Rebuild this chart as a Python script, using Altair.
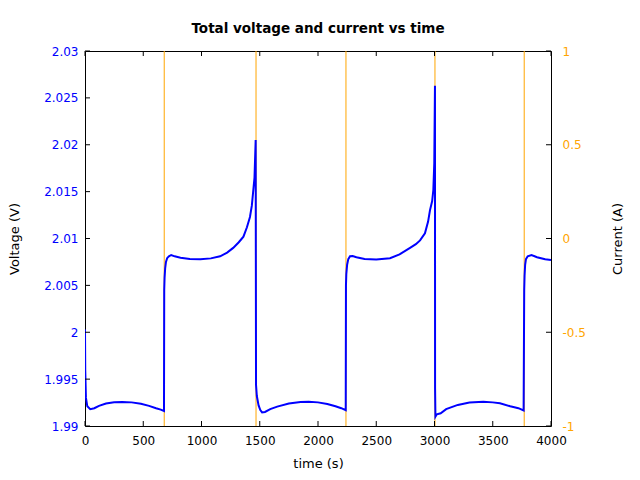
import altair as alt
import pandas as pd

# ---- data ----
time_v = [0, 2, 8, 20, 45, 80, 120, 180, 250, 320, 400, 480, 550, 610, 650, 678,
          680, 683, 688, 695, 705, 720, 740, 770, 820, 900, 990, 1080, 1160, 1220, 1272, 1320, 1360, 1390, 1416, 1432, 1445, 1455, 1465,
          1468, 1475, 1490, 1505, 1520, 1545, 1590, 1650, 1750, 1850, 1920, 2000, 2080, 2150, 2200, 2238,
          2240, 2243, 2250, 2260, 2275, 2297, 2330, 2400, 2500, 2618, 2700, 2790, 2840, 2876, 2918, 2945, 2961, 2980, 2990, 2998, 3004,
          3005, 3008, 3020, 3053, 3100, 3200, 3300, 3419, 3500, 3562, 3650, 3720, 3765,
          3770, 3773, 3778, 3785, 3800, 3833, 3880, 3950, 4000]
voltage = [2.0003, 1.9960, 1.9930, 1.9921, 1.9918, 1.99190, 1.99215, 1.99240, 1.99253, 1.99256, 1.99252, 1.99237, 1.99215, 1.99190, 1.99175, 1.99160,
           2.0045, 2.0058, 2.0068, 2.0075, 2.0079, 2.0081, 2.00824, 2.0081, 2.00795, 2.00782, 2.0078, 2.00788, 2.0081, 2.0085, 2.0090, 2.0096, 2.0102, 2.0112, 2.0123, 2.0135, 2.0152, 2.0165, 2.0205,
           1.9944, 1.9932, 1.9922, 1.9917, 1.99145, 1.99150, 1.99180, 1.99207, 1.99240, 1.99256, 1.99259, 1.99252, 1.99235, 1.99210, 1.99190, 1.99168,
           2.0050, 2.0062, 2.0072, 2.0078, 2.0081, 2.00813, 2.0080, 2.00782, 2.00775, 2.0079, 2.0083, 2.0090, 2.0094, 2.0098, 2.01056, 2.0118, 2.0130, 2.0140, 2.01517, 2.0180, 2.0263,
           1.9940, 1.9910, 1.99125, 1.99135, 1.99180, 1.99225, 1.99250, 1.99259, 1.99252, 1.99242, 1.99210, 1.99190, 1.99165,
           2.0045, 2.0060, 2.0072, 2.0078, 2.0081, 2.00824, 2.0080, 2.00778, 2.00771]

time_i = [0, 680, 680, 1468, 1468, 2240, 2240, 3004, 3004, 3770, 3770, 4000]
current = [-3, -3, 3, 3, -3, -3, 3, 3, -3, -3, 3, 3]

x_ticks = [0, 500, 1000, 1500, 2000, 2500, 3000, 3500, 4000]
v_ticks = [1.99, 1.995, 2.0, 2.005, 2.01, 2.015, 2.02, 2.025, 2.03]
i_ticks = [-1, -0.5, 0, 0.5, 1]

W, H = 466, 375
TL = 5
FONT = "DejaVu Sans"

vdf = pd.DataFrame({"t": time_v, "v": voltage, "idx": list(range(len(time_v)))})
idf = pd.DataFrame({"t": time_i, "i": current, "idx": list(range(len(time_i)))})
xt = pd.DataFrame({"t": x_ticks})
vt = pd.DataFrame({"v": v_ticks})
it = pd.DataFrame({"i": i_ticks})

xscale = alt.Scale(domain=[0, 4000], nice=False)
vscale = alt.Scale(domain=[1.99, 2.03], nice=False, zero=False)
iscale = alt.Scale(domain=[-1, 1], nice=False)

common = dict(ticks=False, domain=False, grid=False, labelFlush=False, labelOverlap=False,
              labelFont=FONT, labelFontSize=12, titleFont=FONT, titleFontSize=13,
              titleFontWeight="normal", titleColor="black")
xaxis = alt.Axis(values=x_ticks, format="d", title="time (s)", orient="bottom",
                 labelPadding=9, titlePadding=11, labelColor="black", **common)
laxis = alt.Axis(values=v_ticks, format="~g", title="Voltage (V)", orient="left",
                 labelPadding=7, titlePadding=22, labelColor="#0000ff", **common)
raxis = alt.Axis(values=i_ticks, labelExpr="datum.value + ''", title="Current (A)", orient="right",
                 labelPadding=11, titlePadding=26, titleAngle=270, titleBaseline="top",
                 labelColor="#ffa500", **common)

cur_line = alt.Chart(idf).mark_line(color="#ffa500", strokeWidth=1, clip=True).encode(
    x=alt.X("t:Q", scale=xscale, axis=xaxis),
    y=alt.Y("i:Q", scale=iscale, axis=raxis),
    order="idx:Q",
)
right_ticks = alt.Chart(it).mark_rule(color="black").encode(
    y=alt.Y("i:Q", scale=iscale),
    x=alt.value(W), x2=alt.value(W - TL),
)

volt_line = alt.Chart(vdf).mark_line(color="#0000ff", strokeWidth=2, clip=True).encode(
    x=alt.X("t:Q", scale=xscale, axis=xaxis),
    y=alt.Y("v:Q", scale=vscale, axis=laxis),
    order="idx:Q",
)
left_ticks = alt.Chart(vt).mark_rule(color="black").encode(
    y=alt.Y("v:Q", scale=vscale),
    x=alt.value(0), x2=alt.value(TL),
)
bottom_ticks = alt.Chart(xt).mark_rule(color="black").encode(
    x=alt.X("t:Q", scale=xscale),
    y=alt.value(H), y2=alt.value(H - TL),
)
top_ticks = alt.Chart(xt).mark_rule(color="black").encode(
    x=alt.X("t:Q", scale=xscale),
    y=alt.value(0), y2=alt.value(TL),
)

right = alt.layer(cur_line, right_ticks)
left = alt.layer(volt_line, left_ticks, bottom_ticks, top_ticks)

chart = alt.layer(right, left).resolve_scale(y="independent").properties(
    width=W, height=H,
    background="white",
    padding={"left": 85, "top": 51, "right": 89, "bottom": 54},
    autosize=alt.AutoSizeParams(type="none"),
    title=alt.Title("Total voltage and current vs time", font=FONT, fontSize=13.5,
                    fontWeight="bold", offset=10, color="black"),
).configure_view(stroke="black", strokeWidth=1)

chart.save("out.html", embed_options={"renderer": "svg", "actions": False})
